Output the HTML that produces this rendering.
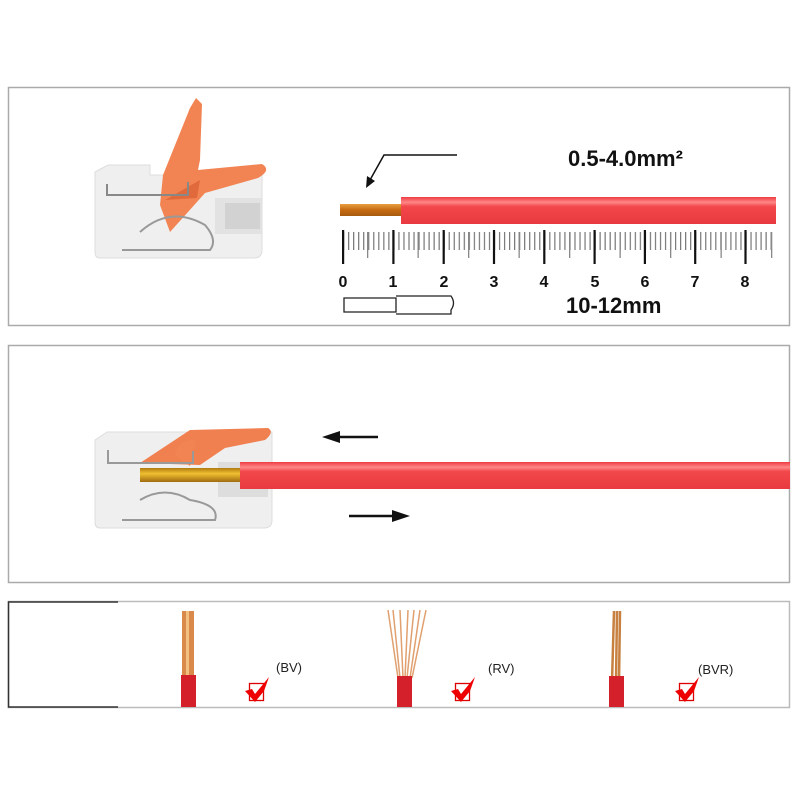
<!DOCTYPE html>
<html><head><meta charset="utf-8"><style>
html,body{margin:0;padding:0;background:#fff;width:800px;height:800px;overflow:hidden}
svg{display:block}
</style></head><body>
<svg width="800" height="800" viewBox="0 0 800 800" xmlns="http://www.w3.org/2000/svg" font-family="Liberation Sans, sans-serif">
<defs>
<pattern id="mm" x="343" y="0" width="5.03" height="800" patternUnits="userSpaceOnUse">
<rect x="0" y="0" width="1.2" height="800" fill="#777"/>
</pattern>
<linearGradient id="red" x1="0" y1="0" x2="0" y2="1">
<stop offset="0" stop-color="#ee3c42"/><stop offset="0.2" stop-color="#f88"/><stop offset="0.35" stop-color="#f2474b"/><stop offset="1" stop-color="#e83a40"/>
</linearGradient>
<linearGradient id="cu" x1="0" y1="0" x2="0" y2="1">
<stop offset="0" stop-color="#e8a040"/><stop offset="0.5" stop-color="#c66a10"/><stop offset="1" stop-color="#a85a10"/>
</linearGradient>
<linearGradient id="cu2" x1="0" y1="0" x2="0" y2="1">
<stop offset="0" stop-color="#b07a10"/><stop offset="0.4" stop-color="#f0c030"/><stop offset="1" stop-color="#a06a10"/>
</linearGradient>
</defs>
<rect x="8.5" y="87.5" width="781" height="238" fill="none" stroke="#aaa" stroke-width="1.5"/>
<rect x="8.5" y="345.5" width="781" height="237" fill="none" stroke="#aaa" stroke-width="1.5"/>
<rect x="8.5" y="601.5" width="781" height="106" fill="none" stroke="#bbb" stroke-width="1.5"/>
<path d="M118 602 H8.5 V707 H118" fill="none" stroke="#333" stroke-width="1.5"/>

<!-- connector 1 -->
<g>
<path d="M95 172 L108 165 H150 V175 H262 V250 Q262 258 254 258 H100 Q95 258 95 252 Z" fill="#efefef" stroke="#ddd"/>
<rect x="215" y="198" width="47" height="36" fill="#e2e2e2"/>
<rect x="225" y="203" width="35" height="26" fill="#d2d2d2"/>
<path d="M170 232 L160 205 L163 175 L190 108 L196 98 L202 104 L200 160 L198 170 L262 164 Q272 170 258 178 L205 193 L188 212 Z" fill="#f28453"/>
<path d="M165 200 L200 180 L197 198 Z" fill="#e06a3c"/>
<path d="M107 184 V195 H188 V182" fill="none" stroke="#888" stroke-width="2"/>
<path d="M140 232 Q170 205 205 225 Q218 240 210 250 H122" fill="none" stroke="#999" stroke-width="2"/>
</g>

<path d="M457 155 H384 L370 180" fill="none" stroke="#111" stroke-width="1.5"/>
<path d="M366 188 L367 176 L375 181 Z" fill="#111"/>
<text x="568" y="166" font-size="22" font-weight="bold" fill="#111">0.5-4.0mm²</text>

<rect x="340" y="204" width="62" height="12" fill="url(#cu)"/>
<rect x="401" y="197" width="375" height="27" fill="url(#red)"/>

<rect x="343" y="232" width="432" height="18" fill="url(#mm)"/>
<g fill="#888">
<rect x="367" y="232" width="1.3" height="26"/><rect x="417.5" y="232" width="1.3" height="26"/><rect x="468" y="232" width="1.3" height="26"/><rect x="518.5" y="232" width="1.3" height="26"/><rect x="569" y="232" width="1.3" height="26"/><rect x="619.5" y="232" width="1.3" height="26"/><rect x="670" y="232" width="1.3" height="26"/><rect x="720.5" y="232" width="1.3" height="26"/><rect x="771" y="232" width="1.3" height="26"/>
</g>
<g fill="#111">
<rect x="342" y="230" width="2.2" height="34"/><rect x="392.3" y="230" width="2.2" height="34"/><rect x="442.6" y="230" width="2.2" height="34"/><rect x="492.9" y="230" width="2.2" height="34"/><rect x="543.2" y="230" width="2.2" height="34"/><rect x="593.5" y="230" width="2.2" height="34"/><rect x="643.8" y="230" width="2.2" height="34"/><rect x="694.1" y="230" width="2.2" height="34"/><rect x="744.4" y="230" width="2.2" height="34"/>
</g>
<g font-size="16" fill="#111" text-anchor="middle" font-weight="bold">
<text x="343" y="287">0</text><text x="393" y="287">1</text><text x="444" y="287">2</text><text x="494" y="287">3</text><text x="544" y="287">4</text><text x="595" y="287">5</text><text x="645" y="287">6</text><text x="695" y="287">7</text><text x="745" y="287">8</text>
</g>
<path d="M344 298 H396 V312 H344 Z M396 296 H451 Q456 303 451 310 V314 H396" fill="#fff" stroke="#222" stroke-width="1.3"/>
<text x="566" y="313" font-size="22" font-weight="bold" fill="#111">10-12mm</text>

<!-- connector 2 -->
<g>
<path d="M95 440 L107 432 H272 V520 Q272 528 264 528 H100 Q95 528 95 522 Z" fill="#efefef" stroke="#ddd"/>
<rect x="218" y="462" width="50" height="35" fill="#ddd"/>
<path d="M140 463 L190 430 L268 428 Q275 432 265 440 L225 448 L200 465 Z" fill="#f08050"/>
<path d="M175 455 Q178 440 195 440 L190 466 Z" fill="#f28453"/>
<path d="M108 450 V463 H193 V451" fill="none" stroke="#999" stroke-width="2"/>
<rect x="140" y="468" width="102" height="14" fill="url(#cu2)"/>
<path d="M140 500 Q165 485 190 500 Q220 505 215 520 H122" fill="none" stroke="#999" stroke-width="2"/>
</g>
<rect x="240" y="462" width="550" height="27" fill="url(#red)"/>
<path d="M378 437 H340" stroke="#111" stroke-width="2.5"/><path d="M322 437 L340 431 V443 Z" fill="#111"/>
<path d="M349 516 H392" stroke="#111" stroke-width="2.5"/><path d="M410 516 L392 510 V522 Z" fill="#111"/>

<!-- panel 3 -->
<g>
<rect x="182" y="611" width="12" height="70" fill="#d98a4a"/><rect x="186" y="611" width="3" height="70" fill="#f2c080"/>
<rect x="181" y="675" width="15" height="32" fill="#d3202a"/>
<path d="M388 610 L398 678 M393 610 L400 678 M400 610 L403 678 M408 610 L405 678 M414 610 L407 678 M420 610 L410 678 M426 610 L412 678" stroke="#e0a070" stroke-width="1.5"/>
<rect x="397" y="676" width="15" height="31" fill="#d3202a"/>
<path d="M614 611 L612 682 M617 611 L616 682 M620 611 L619 682" stroke="#c78040" stroke-width="2.5"/>
<rect x="609" y="676" width="15" height="31" fill="#d3202a"/>
</g>
<g font-size="13" fill="#222">
<text x="276" y="672">(BV)</text><text x="488" y="673">(RV)</text><text x="698" y="674">(BVR)</text>
</g>
<g fill="none" stroke="#d00" stroke-width="1.3">
<rect x="249.5" y="683.5" width="14" height="17"/><rect x="455.5" y="683.5" width="14" height="17"/><rect x="679.5" y="683.5" width="14" height="17"/>
</g>
<g fill="#e00">
<path d="M245 691 L252 689 L255 694 L269 677 L264 691 L255 702 Z"/>
<path d="M451 691 L458 689 L461 694 L475 677 L470 691 L461 702 Z"/>
<path d="M675 691 L682 689 L685 694 L699 677 L694 691 L685 702 Z"/>
</g>
</svg>
</body></html>
